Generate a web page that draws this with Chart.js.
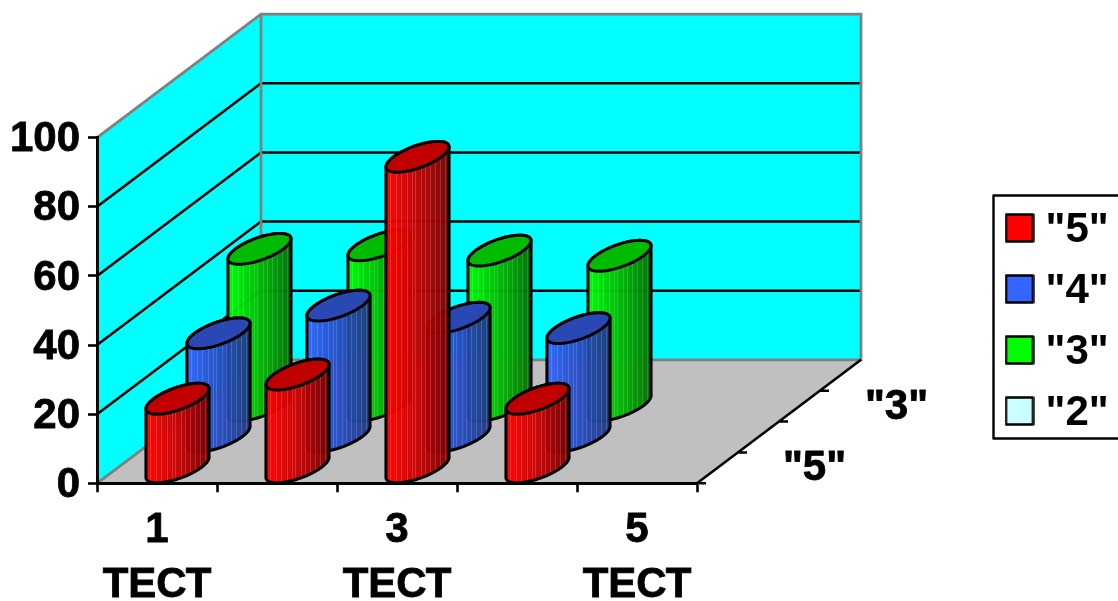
<!DOCTYPE html>
<html><head><meta charset="utf-8">
<style>html,body{margin:0;padding:0;background:#fff}canvas{display:block}</style>
<script src="https://cdn.jsdelivr.net/npm/chart.js@4/dist/chart.umd.min.js"></script>
</head><body><canvas id="c" width="1118" height="601"></canvas>
<script>
const categories = [['1','ТЕСТ'],['2','ТЕСТ'],['3','ТЕСТ'],['4','ТЕСТ'],['5','ТЕСТ']];
const seriesNames = ['"5"','"4"','"3"','"2"'];
const values5 = [20, 27, 90, 20, null];
const values4 = [30, 38, 34.5, 31.5, null];
const values3 = [45.5, 46.5, 45, 43.5, null];
const values2 = [null, null, null, null, null];
const swatchColors = ['#ff0000','#3366ff','#00ff00','#ccffff'];
const sideStops = [
  ['#ff0000','#e00000','#b80000','#780000'],
  ['#3366ff','#2a55d8','#2448b4','#1e3a80'],
  ['#00ff00','#00d400','#00a800','#006e00'],
  ['#ccffff','#b0e0e0','#90c0c0','#608080']
];
const capColors = ['#c00000','#2a48b4','#00bb00','#aadddd'];
const stripes = [.07,.16,.24,.33,.41,.46,.55,.62,.7,.78,.86,.93];

const DEPTH_DX = 164, DEPTH_DY = 123.5, ROWS = 4;
const rowDX = DEPTH_DX/ROWS, rowDY = DEPTH_DY/ROWS;

function swatch(color){
  const c=document.createElement('canvas');c.width=30;c.height=34;
  const g=c.getContext('2d');g.fillStyle=color;g.fillRect(1,1,28,28);
  g.strokeStyle='#000';g.lineWidth=2.4;g.lineJoin='round';g.strokeRect(1.5,1.5,27,27);
  return c;
}
function ellipsePath(ctx,cx,cy,ux,vx,vy,a0,a1,ccw,move){
  const N=72;
  for(let i=0;i<=N;i++){
    const t=a0+(a1-a0)*i/N;
    const x=cx+ux*Math.cos(t)+vx*Math.sin(t), y=cy+vy*Math.sin(t);
    if(i===0&&move)ctx.moveTo(x,y);else ctx.lineTo(x,y);
  }
}
function drawCylinder(ctx,el,r){
  const off=r+.5, ux=el.width/2, vx=rowDX/2, vy=-rowDY/2;
  const cx=el.x+rowDX*off, top=el.y-rowDY*off, base=el.base-rowDY*off;
  const t0=Math.atan2(vx,ux), hw=Math.sqrt(ux*ux+vx*vx);
  const path=()=>{ctx.beginPath();
    ellipsePath(ctx,cx,top,ux,vx,vy,t0,t0+Math.PI,false,true);
    ellipsePath(ctx,cx,base,ux,vx,vy,t0+Math.PI,t0+2*Math.PI,false,false);
    ctx.closePath();};
  const g=ctx.createLinearGradient(cx-hw,0,cx+hw,0);
  sideStops[r].forEach((c,i)=>g.addColorStop([0,.3,.62,1][i],c));
  ctx.save();
  path();ctx.save();ctx.clip();
  ctx.globalAlpha=.96;ctx.fillStyle=g;ctx.fillRect(cx-hw-2,top-30,2*hw+4,base-top+60);
  ctx.globalAlpha=.16;ctx.fillStyle='#ffffff';
  stripes.forEach(s=>ctx.fillRect(Math.round(cx-hw+2*hw*s),top-30,1,base-top+60));
  ctx.restore();
  ctx.lineWidth=3;ctx.strokeStyle='#000';ctx.lineJoin='round';
  path();ctx.stroke();
  ctx.beginPath();ellipsePath(ctx,cx,top,ux,vx,vy,0,2*Math.PI,false,true);ctx.closePath();
  ctx.fillStyle=capColors[r];ctx.fill();ctx.stroke();
  ctx.restore();
}
const scene={
  id:'scene',
  afterLayout(chart){
    const l=chart.legend;
    l.left=995.5;l.top=190;l.right=1118;l.bottom=500;l.width=122.5;l.height=310;
  },
  beforeDraw(chart){
    const {ctx,scales:{x,y}}=chart;
    const L=x.left,R=x.right,B=y.getPixelForValue(0),T=y.getPixelForValue(100);
    const dx=DEPTH_DX,dy=DEPTH_DY;
    ctx.save();
    ctx.fillStyle='#00ffff';
    ctx.beginPath();ctx.moveTo(L,B);ctx.lineTo(L,T);ctx.lineTo(L+dx,T-dy);ctx.lineTo(L+dx,B-dy);ctx.closePath();ctx.fill();
    ctx.fillRect(L+dx,T-dy,R-L,B-T);
    ctx.fillStyle='#c0c0c0';
    ctx.beginPath();ctx.moveTo(L,B);ctx.lineTo(R,B);ctx.lineTo(R+dx,B-dy);ctx.lineTo(L+dx,B-dy);ctx.closePath();ctx.fill();
    ctx.strokeStyle='#000';ctx.lineWidth=2.6;
    y.ticks.forEach(t=>{
      if(t.value===0||t.value===100)return;
      const p=y.getPixelForValue(t.value);
      ctx.beginPath();ctx.moveTo(L,p);ctx.lineTo(L+dx,p-dy);ctx.lineTo(R+dx,p-dy);ctx.stroke();
    });
    ctx.strokeStyle='#808080';ctx.lineWidth=2.8;ctx.lineJoin='miter';
    ctx.beginPath();
    ctx.moveTo(L,T);ctx.lineTo(L+dx,T-dy);ctx.lineTo(R+dx,T-dy);ctx.lineTo(R+dx,B-dy);ctx.lineTo(L+dx,B-dy);ctx.lineTo(L,B);
    ctx.moveTo(L+dx,T-dy);ctx.lineTo(L+dx,B-dy);
    ctx.stroke();
    // depth axis
    ctx.strokeStyle='#000';ctx.lineWidth=2.6;
    ctx.beginPath();ctx.moveTo(R,B);ctx.lineTo(R+dx,B-dy);
    for(let i=0;i<ROWS;i++){const px=R+rowDX*i,py=B-rowDY*i;ctx.moveTo(px,py);ctx.lineTo(px+9,py);}
    ctx.stroke();
    ctx.fillStyle='#000';ctx.font='bold 42px "Liberation Sans"';ctx.textAlign='center';ctx.textBaseline='middle';
    ctx.lineWidth=.8;ctx.lineJoin='round';
    seriesNames.forEach((s,i)=>{ if(i%2)return;
      const tx=R+rowDX*(i+.5)+97, ty=B-rowDY*(i+.5)+1;
      ctx.fillText(s,tx,ty);ctx.strokeText(s,tx,ty);
    });
    // legend frame
    ctx.strokeStyle='#000';ctx.lineWidth=2.4;ctx.strokeRect(993.5,195.5,130,243);
    ctx.restore();
  },
  beforeDatasetDraw(chart,args){
    const meta=args.meta;
    meta.data.forEach((el,i)=>{
      const v=chart.data.datasets[args.index].data[i];
      if(v!==null&&v!==undefined)drawCylinder(chart.ctx,el,args.index);
    });
    return false;
  }
};
new Chart(document.getElementById('c'),{
  type:'bar',
  data:{labels:categories,datasets:[values5,values4,values3,values2].map((d,i)=>({
    label:seriesNames[i],data:d,backgroundColor:swatchColors[i],borderColor:'#000',
    grouped:false,categoryPercentage:1,barPercentage:.4
  }))},
  plugins:[scene],
  options:{
    responsive:false,animation:false,
    layout:{padding:{left:0,top:137.7,right:421,bottom:0}},
    plugins:{
      tooltip:{enabled:false},title:{display:false},
      legend:{
        position:'chartArea',align:'start',
        labels:{
          usePointStyle:true,pointStyleWidth:10,boxHeight:28,padding:19,color:'#000',
          font:{family:'"Liberation Sans"',size:42,weight:'bold',lineHeight:1},
          generateLabels(chart){return chart.data.datasets.map((d,i)=>({
            text:d.label,datasetIndex:i,pointStyle:swatch(swatchColors[i]),fontColor:'#000',lineWidth:0
          }));}
        }
      }
    },
    scales:{
      x:{
        afterFit(s){s.height=117.7;},
        border:{color:'#000',width:3},
        grid:{offset:true,drawOnChartArea:false,drawTicks:true,tickLength:9,tickColor:'#000',tickWidth:2.6,color:'#000'},
        ticks:{
          autoSkip:false,maxRotation:0,minRotation:0,padding:11,color:'#000',
          textStrokeColor:'#000',textStrokeWidth:.8,
          font:{family:'"Liberation Sans"',size:42,weight:'bold',lineHeight:1.3},
          callback(v,i){return i%2===0?this.getLabelForValue(v):'';}
        }
      },
      y:{
        min:0,max:100,
        afterFit(s){s.width=97;},
        border:{color:'#000',width:3},
        grid:{drawOnChartArea:false,drawTicks:true,tickLength:9,tickColor:'#000',tickWidth:2.6,color:'#000'},
        ticks:{
          stepSize:20,padding:8,labelOffset:2,color:'#000',
          textStrokeColor:'#000',textStrokeWidth:.8,
          font:{family:'"Liberation Sans"',size:42,weight:'bold'}
        }
      }
    }
  }
});
</script></body></html>
